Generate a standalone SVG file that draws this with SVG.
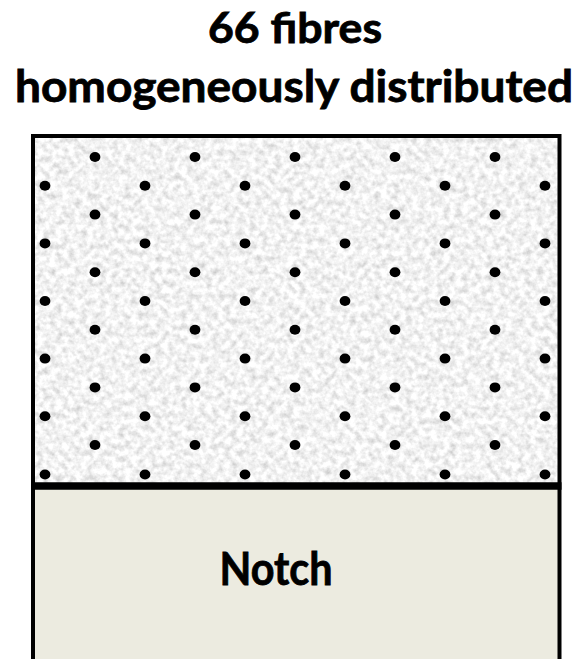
<svg xmlns="http://www.w3.org/2000/svg" xmlns:xlink="http://www.w3.org/1999/xlink" width="580" height="659" viewBox="0 0 580 659">
  <style>
    .title { font-family: Lato, "Open Sans", "Liberation Sans", sans-serif; font-weight: 700; fill: #000; text-anchor: middle; stroke: #000; stroke-width: 0.8; }
    .frame { fill: none; stroke: #000; stroke-width: 4; }
    .fibre { fill: #000; }
  </style>
  <defs>
    <filter id="grain" filterUnits="userSpaceOnUse" x="33" y="136" width="527" height="350">
      <feTurbulence type="fractalNoise" baseFrequency="0.16" numOctaves="3" seed="7" result="n"/>
      <feColorMatrix in="n" type="matrix" values="0.7 0 0 0 0.54  0.7 0 0 0 0.54  0.7 0 0 0 0.54  0 0 0 0 1"/>
    </filter>
    <ellipse id="dot" class="fibre" cx="0" cy="0" rx="5.4" ry="5"/>
  </defs>

  <g id="title">
    <text class="title" x="295" y="43" font-size="42" textLength="174" lengthAdjust="spacingAndGlyphs">66 fibres</text>
    <text class="title" x="294" y="102" font-size="44" textLength="558" lengthAdjust="spacingAndGlyphs">homogeneously distributed</text>
  </g>

  <g id="matrix">
    <rect x="33" y="136" width="527" height="350" fill="#e6e6e6" filter="url(#grain)"/>
    <g id="fibres">
      <use xlink:href="#dot" x="95" y="157"/><use xlink:href="#dot" x="195" y="157"/><use xlink:href="#dot" x="295" y="157"/><use xlink:href="#dot" x="395" y="157"/><use xlink:href="#dot" x="495" y="157"/>
      <use xlink:href="#dot" x="45" y="185.8"/><use xlink:href="#dot" x="145" y="185.8"/><use xlink:href="#dot" x="245" y="185.8"/><use xlink:href="#dot" x="345" y="185.8"/><use xlink:href="#dot" x="445" y="185.8"/><use xlink:href="#dot" x="545" y="185.8"/>
      <use xlink:href="#dot" x="95" y="214.6"/><use xlink:href="#dot" x="195" y="214.6"/><use xlink:href="#dot" x="295" y="214.6"/><use xlink:href="#dot" x="395" y="214.6"/><use xlink:href="#dot" x="495" y="214.6"/>
      <use xlink:href="#dot" x="45" y="243.4"/><use xlink:href="#dot" x="145" y="243.4"/><use xlink:href="#dot" x="245" y="243.4"/><use xlink:href="#dot" x="345" y="243.4"/><use xlink:href="#dot" x="445" y="243.4"/><use xlink:href="#dot" x="545" y="243.4"/>
      <use xlink:href="#dot" x="95" y="272.2"/><use xlink:href="#dot" x="195" y="272.2"/><use xlink:href="#dot" x="295" y="272.2"/><use xlink:href="#dot" x="395" y="272.2"/><use xlink:href="#dot" x="495" y="272.2"/>
      <use xlink:href="#dot" x="45" y="301"/><use xlink:href="#dot" x="145" y="301"/><use xlink:href="#dot" x="245" y="301"/><use xlink:href="#dot" x="345" y="301"/><use xlink:href="#dot" x="445" y="301"/><use xlink:href="#dot" x="545" y="301"/>
      <use xlink:href="#dot" x="95" y="329.8"/><use xlink:href="#dot" x="195" y="329.8"/><use xlink:href="#dot" x="295" y="329.8"/><use xlink:href="#dot" x="395" y="329.8"/><use xlink:href="#dot" x="495" y="329.8"/>
      <use xlink:href="#dot" x="45" y="358.6"/><use xlink:href="#dot" x="145" y="358.6"/><use xlink:href="#dot" x="245" y="358.6"/><use xlink:href="#dot" x="345" y="358.6"/><use xlink:href="#dot" x="445" y="358.6"/><use xlink:href="#dot" x="545" y="358.6"/>
      <use xlink:href="#dot" x="95" y="387.4"/><use xlink:href="#dot" x="195" y="387.4"/><use xlink:href="#dot" x="295" y="387.4"/><use xlink:href="#dot" x="395" y="387.4"/><use xlink:href="#dot" x="495" y="387.4"/>
      <use xlink:href="#dot" x="45" y="416.2"/><use xlink:href="#dot" x="145" y="416.2"/><use xlink:href="#dot" x="245" y="416.2"/><use xlink:href="#dot" x="345" y="416.2"/><use xlink:href="#dot" x="445" y="416.2"/><use xlink:href="#dot" x="545" y="416.2"/>
      <use xlink:href="#dot" x="95" y="445"/><use xlink:href="#dot" x="195" y="445"/><use xlink:href="#dot" x="295" y="445"/><use xlink:href="#dot" x="395" y="445"/><use xlink:href="#dot" x="495" y="445"/>
      <use xlink:href="#dot" x="45" y="474.5"/><use xlink:href="#dot" x="145" y="474.5"/><use xlink:href="#dot" x="245" y="474.5"/><use xlink:href="#dot" x="345" y="474.5"/><use xlink:href="#dot" x="445" y="474.5"/><use xlink:href="#dot" x="545" y="474.5"/>
    </g>
  </g>

  <g id="notch">
    <rect x="33" y="486" width="527" height="180" fill="#ecebe0"/>
    <text class="title" x="276" y="585" font-size="45" textLength="113" lengthAdjust="spacingAndGlyphs">Notch</text>
  </g>

  <g id="outline">
    <path class="frame" d="M33 670 V136 H559.5 V670"/>
    <line x1="31" y1="486" x2="561.5" y2="486" stroke="#000" stroke-width="7.5"/>
  </g>
</svg>
